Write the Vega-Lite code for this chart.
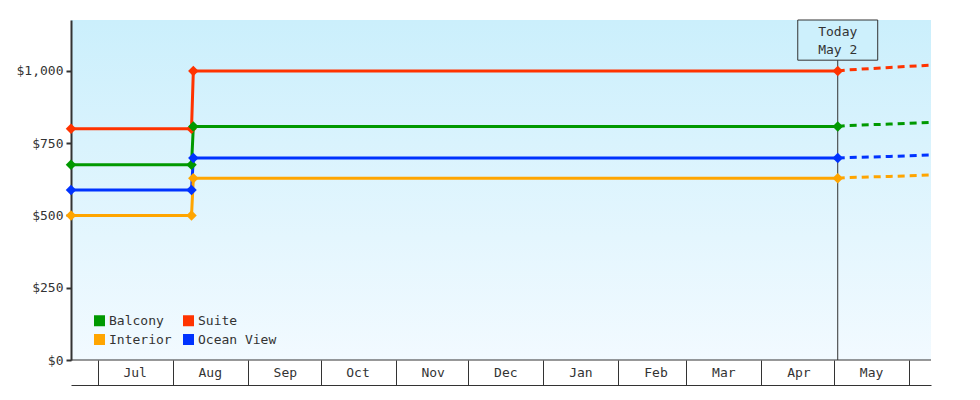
{
  "$schema": "https://vega.github.io/schema/vega-lite/v6.json",
  "autosize": {"type": "none"},
  "padding": {"left": 71, "top": 20, "right": 49, "bottom": 40},
  "width": 860,
  "height": 340,
  "background": "white",
  "config": {
    "font": "DejaVu Sans Mono",
    "view": {
      "stroke": null,
      "fill": {
        "gradient": "linear", "x1": 0, "y1": 0, "x2": 0, "y2": 1,
        "stops": [
          {"offset": 0, "color": "#cbeffc"},
          {"offset": 1, "color": "#f2faff"}
        ]
      }
    },
    "axis": {
      "labelFont": "DejaVu Sans Mono",
      "labelFontSize": 13,
      "labelColor": "#333",
      "domainColor": "#333",
      "tickColor": "#333",
      "grid": false,
      "title": null
    },
    "legend": {
      "labelFont": "DejaVu Sans Mono",
      "labelFontSize": 13,
      "labelColor": "#333"
    }
  },
  "datasets": {
    "prices": [
      {"date": "2024-06-20T00:00:00", "cabin": "Suite", "price": 800, "kind": "actual"},
      {"date": "2024-08-08T18:00:00", "cabin": "Suite", "price": 800, "kind": "actual"},
      {"date": "2024-08-09T12:00:00", "cabin": "Suite", "price": 1000, "kind": "actual"},
      {"date": "2025-05-02T12:00:00", "cabin": "Suite", "price": 1000, "kind": "actual"},
      {"date": "2024-06-20T00:00:00", "cabin": "Balcony", "price": 675, "kind": "actual"},
      {"date": "2024-08-08T18:00:00", "cabin": "Balcony", "price": 675, "kind": "actual"},
      {"date": "2024-08-09T12:00:00", "cabin": "Balcony", "price": 808, "kind": "actual"},
      {"date": "2025-05-02T12:00:00", "cabin": "Balcony", "price": 808, "kind": "actual"},
      {"date": "2024-06-20T00:00:00", "cabin": "Ocean View", "price": 588, "kind": "actual"},
      {"date": "2024-08-08T18:00:00", "cabin": "Ocean View", "price": 588, "kind": "actual"},
      {"date": "2024-08-09T12:00:00", "cabin": "Ocean View", "price": 699, "kind": "actual"},
      {"date": "2025-05-02T12:00:00", "cabin": "Ocean View", "price": 699, "kind": "actual"},
      {"date": "2024-06-20T00:00:00", "cabin": "Interior", "price": 500, "kind": "actual"},
      {"date": "2024-08-08T18:00:00", "cabin": "Interior", "price": 500, "kind": "actual"},
      {"date": "2024-08-09T12:00:00", "cabin": "Interior", "price": 629, "kind": "actual"},
      {"date": "2025-05-02T12:00:00", "cabin": "Interior", "price": 629, "kind": "actual"},
      {"date": "2025-05-02T12:00:00", "cabin": "Suite", "price": 1000, "kind": "forecast"},
      {"date": "2025-05-06T00:00:00", "cabin": "Suite", "price": 1003, "kind": "forecast"},
      {"date": "2025-05-24T00:00:00", "cabin": "Suite", "price": 1012, "kind": "forecast"},
      {"date": "2025-06-10T00:00:00", "cabin": "Suite", "price": 1020, "kind": "forecast"},
      {"date": "2025-05-02T12:00:00", "cabin": "Balcony", "price": 808, "kind": "forecast"},
      {"date": "2025-05-06T00:00:00", "cabin": "Balcony", "price": 811, "kind": "forecast"},
      {"date": "2025-05-24T00:00:00", "cabin": "Balcony", "price": 816, "kind": "forecast"},
      {"date": "2025-06-10T00:00:00", "cabin": "Balcony", "price": 822, "kind": "forecast"},
      {"date": "2025-05-02T12:00:00", "cabin": "Ocean View", "price": 699, "kind": "forecast"},
      {"date": "2025-05-06T00:00:00", "cabin": "Ocean View", "price": 700, "kind": "forecast"},
      {"date": "2025-05-24T00:00:00", "cabin": "Ocean View", "price": 704, "kind": "forecast"},
      {"date": "2025-06-10T00:00:00", "cabin": "Ocean View", "price": 709, "kind": "forecast"},
      {"date": "2025-05-02T12:00:00", "cabin": "Interior", "price": 629, "kind": "forecast"},
      {"date": "2025-05-06T00:00:00", "cabin": "Interior", "price": 631, "kind": "forecast"},
      {"date": "2025-05-24T00:00:00", "cabin": "Interior", "price": 635, "kind": "forecast"},
      {"date": "2025-06-10T00:00:00", "cabin": "Interior", "price": 640, "kind": "forecast"}
    ],
    "today": [
      {"date": "2025-05-02T12:00:00", "label": ["Today", "May 2"], "from": "2025-04-16T00:00:00", "to": "2025-05-19T00:00:00"}
    ]
  },
  "layer": [
    {
      "data": {"name": "prices"},
      "transform": [{"filter": "datum.kind === 'actual'"}],
      "mark": {"type": "line", "strokeWidth": 3},
      "encoding": {
        "x": {
          "field": "date", "type": "temporal",
          "scale": {"domain": [{"year": 2024, "month": 6, "date": 20}, {"year": 2025, "month": 6, "date": 10}]},
          "axis": {
            "values": [
              {"year": 2024, "month": 7, "date": 1}, {"year": 2024, "month": 8, "date": 1},
              {"year": 2024, "month": 9, "date": 1}, {"year": 2024, "month": 10, "date": 1},
              {"year": 2024, "month": 11, "date": 1}, {"year": 2024, "month": 12, "date": 1},
              {"year": 2025, "month": 1, "date": 1}, {"year": 2025, "month": 2, "date": 1},
              {"year": 2025, "month": 3, "date": 1}, {"year": 2025, "month": 4, "date": 1},
              {"year": 2025, "month": 5, "date": 1}, {"year": 2025, "month": 6, "date": 1}
            ],
            "labelExpr": "month(datum.value) == 5 ? '' : timeFormat(datum.value, '%b')",
            "offset": 25,
            "tickSize": -25,
            "tickWidth": 1,
            "domainWidth": 1,
            "labelOffset": 37,
            "labelPadding": 6,
            "labelBaseline": "top",
            "labelFlush": false,
            "labelOverlap": false
          }
        },
        "y": {
          "field": "price", "type": "quantitative",
          "scale": {"domain": [0, 1176], "nice": false},
          "axis": {
            "values": [0, 250, 500, 750, 1000],
            "format": "$,.0f",
            "domainWidth": 2,
            "tickWidth": 2,
            "tickSize": 5,
            "labelPadding": 3
          }
        },
        "color": {
          "field": "cabin", "type": "nominal",
          "scale": {
            "domain": ["Balcony", "Suite", "Interior", "Ocean View"],
            "range": ["#009900", "#ff3300", "#ffa500", "#0033ff"]
          },
          "legend": {
            "title": null,
            "orient": "none",
            "legendX": 22,
            "legendY": 294,
            "direction": "horizontal",
            "columns": 2,
            "symbolType": "square",
            "symbolSize": 121,
            "symbolStrokeWidth": 0,
            "symbolOpacity": 1,
            "labelOffset": 3,
            "columnPadding": 10,
            "rowPadding": 5
          }
        }
      }
    },
    {
      "data": {"name": "prices"},
      "transform": [{"filter": "datum.kind === 'forecast'"}],
      "mark": {"type": "line", "strokeWidth": 3, "strokeDash": [7, 5]},
      "encoding": {
        "x": {"field": "date", "type": "temporal"},
        "y": {"field": "price", "type": "quantitative"},
        "color": {"field": "cabin", "type": "nominal"}
      }
    },
    {
      "data": {"name": "today"},
      "mark": {"type": "rule", "color": "#333", "strokeWidth": 1},
      "encoding": {
        "y": {"datum": 0}
      }
    },
    {
      "data": {"name": "today"},
      "mark": {"type": "rule", "color": "#333", "strokeWidth": 1},
      "encoding": {
        "x": {"field": "date", "type": "temporal"}
      }
    },
    {
      "data": {"name": "prices"},
      "transform": [{"filter": "datum.kind === 'actual'"}],
      "mark": {"type": "point", "shape": "diamond", "filled": true, "size": 110, "opacity": 1},
      "encoding": {
        "x": {"field": "date", "type": "temporal"},
        "y": {"field": "price", "type": "quantitative"},
        "color": {"field": "cabin", "type": "nominal"}
      }
    },
    {
      "data": {"name": "today"},
      "mark": {"type": "rect", "fill": "#cdf0fc", "stroke": "#333", "strokeWidth": 1},
      "encoding": {
        "x": {"field": "from", "type": "temporal"},
        "x2": {"field": "to"},
        "y": {"datum": 1037},
        "y2": {"datum": 1176}
      }
    },
    {
      "data": {"name": "today"},
      "mark": {"type": "text", "fontSize": 13, "color": "#333", "lineHeight": 18, "baseline": "middle"},
      "encoding": {
        "x": {"field": "date", "type": "temporal"},
        "y": {"datum": 1134},
        "text": {"field": "label"}
      }
    }
  ]
}
